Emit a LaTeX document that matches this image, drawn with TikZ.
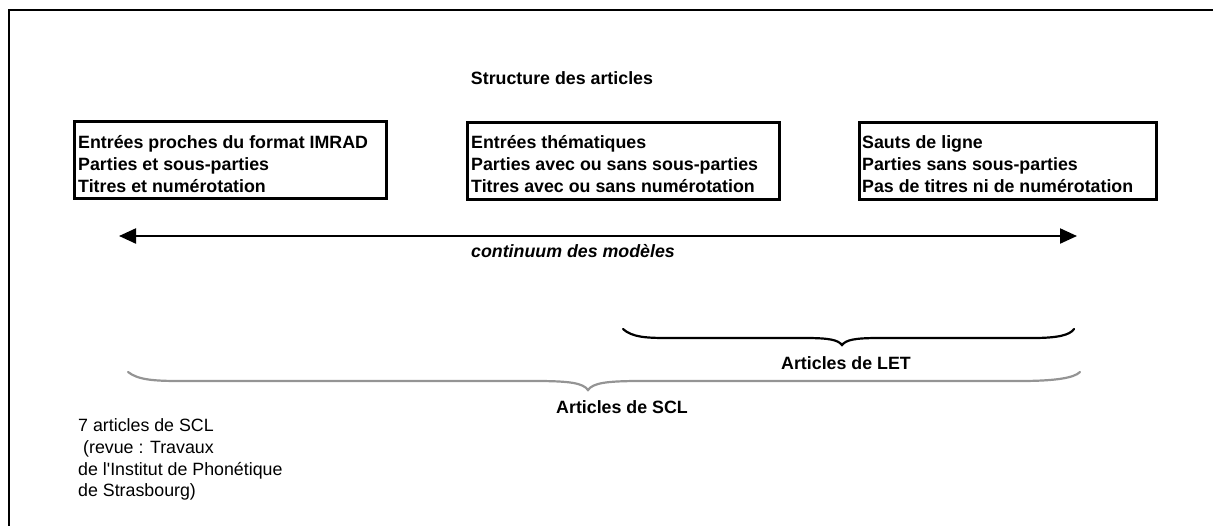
\documentclass[tikz,border=0pt]{standalone}
\usepackage{fontspec}
\setmainfont{Liberation Sans}[Ligatures=TeXOff]
\usetikzlibrary{arrows.meta}
\begin{document}
\begin{tikzpicture}[x=1pt,y=-1pt,
  every node/.style={inner sep=0pt,font=\fontsize{17.8}{21.8}\selectfont},
  boxframe/.style={draw,line width=2.8pt,anchor=north west,inner sep=0pt},
  boxtext/.style={anchor=west,align=left,font=\fontsize{17.8}{21.8}\selectfont\bfseries},
  lbl/.style={font=\fontsize{17.8}{21.8}\selectfont\bfseries},
  bracepen/.style={line width=2.2pt,line cap=round}
]
\useasboundingbox (0,0) rectangle (1213,525);
% frame
\draw[line width=2.6pt] (9,527) -- (9,10) -- (1215,10);
% title
\node[lbl] (title) at (562,78) {Structure des articles};
% boxes
\node[boxframe,minimum width=312pt,minimum height=77pt] (b1) at (73,120) {};
\node[boxframe,minimum width=312pt,minimum height=77pt] (b2) at (466,121) {};
\node[boxframe,minimum width=297pt,minimum height=77pt] (b3) at (858,121) {};
\node[boxtext] (t1) at (78,164) {Entrées proches du format IMRAD\\Parties et sous-parties\\Titres et numérotation};
\node[boxtext] (t2) at (471,164) {Entrées thématiques\\Parties avec ou sans sous-parties\\Titres avec ou sans numérotation};
\node[boxtext] (t3) at (862,164) {Sauts de ligne\\Parties sans sous-parties\\Pas de titres ni de numérotation};
% continuum arrow
\coordinate (aL) at (119,236);
\coordinate (aR) at (1077,236);
\draw[line width=2.2pt,{Triangle[length=17pt,width=15pt]}-{Triangle[length=17pt,width=15pt]}] (aL) -- (aR);
\node[font=\fontsize{17.8}{21.8}\selectfont\bfseries\itshape] (cont) at (573,251) {continuum des modèles};
% LET brace
\coordinate (letL) at (623,329);
\coordinate (letT) at (842,345);
\coordinate (letR) at (1074,329);
\draw[bracepen] (letL) .. controls (632,337) and (645,338) .. (667,338) -- (805,338)
  .. controls (830,338) and (838,340) .. (letT)
  .. controls (846,340) and (854,338) .. (879,338) -- (1033,338)
  .. controls (1058,338) and (1070,335) .. (letR);
\node[lbl] (let) at (846,363) {Articles de LET};
% SCL brace
\coordinate (sclL) at (128,372);
\coordinate (sclT) at (588,390);
\coordinate (sclR) at (1080,372);
\draw[bracepen,color=black!42] (sclL) .. controls (138,380) and (155,381) .. (180,381) -- (535,381)
  .. controls (570,381) and (583,383) .. (sclT)
  .. controls (593,383) and (606,381) .. (641,381) -- (1020,381)
  .. controls (1055,381) and (1074,378) .. (sclR);
\node[lbl] (scl) at (622,407) {Articles de SCL};
% note
\node[anchor=west,align=left] (note) at (78,459.5) {7 articles de SCL\\\ (revue : Travaux\\de l'Institut de Phonétique\\de Strasbourg)};
\end{tikzpicture}
\end{document}
